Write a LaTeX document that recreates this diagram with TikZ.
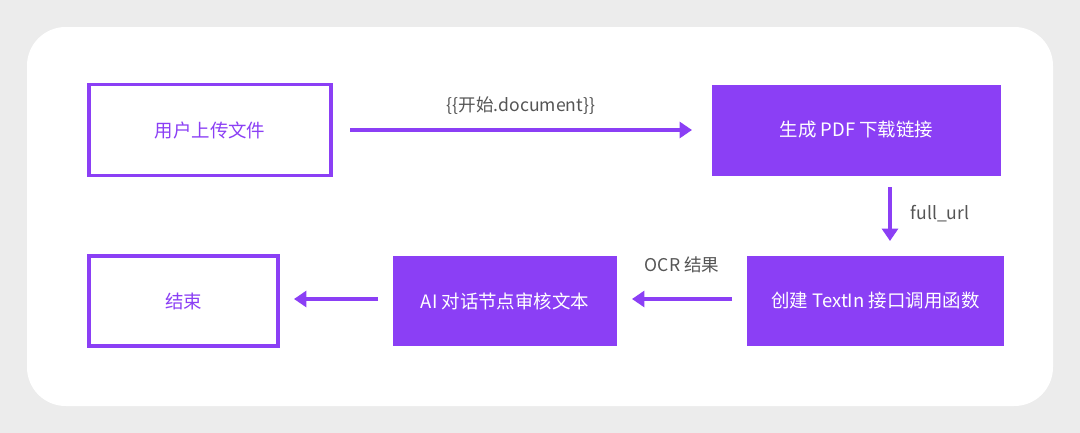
\documentclass[tikz,border=0pt]{standalone}
\usepackage{fontspec}
\setmainfont{Noto Sans CJK SC}
\usetikzlibrary{arrows.meta}
\definecolor{purp}{RGB}{139,63,245}
\definecolor{lbl}{RGB}{85,85,85}
\tikzset{
  outbox/.style={draw=purp, line width=2.2pt, text=purp, font=\fontsize{10.5}{12}\selectfont},
  fillbox/.style={fill=purp, text=white, font=\fontsize{10.5}{12}\selectfont},
  flow/.style={draw=purp, line width=2pt, -{Triangle[length=7pt,width=9pt]}},
  lab/.style={text=lbl, font=\fontsize{10}{12}\selectfont\itshape}
}
\begin{document}
\begin{tikzpicture}[x=0.02cm, y=-0.02cm]
\fill[gray!15] (0,0) rectangle (1080,433);
\fill[white, rounded corners=22pt] (27,27) rectangle (1053,406);
\node[outbox, minimum width=242*0.02cm, minimum height=91*0.02cm] (upload) at (210,130){用户上传文件};
\node[fillbox, minimum width=289*0.02cm, minimum height=91*0.02cm] (pdf) at (856.5,130){生成 PDF 下载链接};
\node[fillbox, minimum width=257*0.02cm, minimum height=90*0.02cm] (textin) at (875.5,301){创建 TextIn 接口调用函数};
\node[fillbox, minimum width=224*0.02cm, minimum height=90*0.02cm] (ai) at (505,301){AI 对话节点审核文本};
\node[outbox, minimum width=189*0.02cm, minimum height=90*0.02cm] (end) at (183.5,301){结束};
\coordinate (a1) at (350,130);
\coordinate (a2) at (692,130);
\draw[flow] (a1) -- (a2);
\node[lab] (l1) at (521,106){\{\{开始.document\}\}};
\coordinate (b1) at (890,187);
\coordinate (b2) at (890,241);
\draw[flow] (b1) -- (b2);
\node[lab] (l2) at (940,214){full\_url};
\coordinate (c1) at (732,299);
\coordinate (c2) at (632,299);
\draw[flow] (c1) -- (c2);
\node[text=lbl, font=\fontsize{10}{12}\selectfont] (l3) at (682,265){\textit{OCR} 结果};
\coordinate (d1) at (378,299);
\coordinate (d2) at (294,299);
\draw[flow] (d1) -- (d2);
\end{tikzpicture}
\end{document}
